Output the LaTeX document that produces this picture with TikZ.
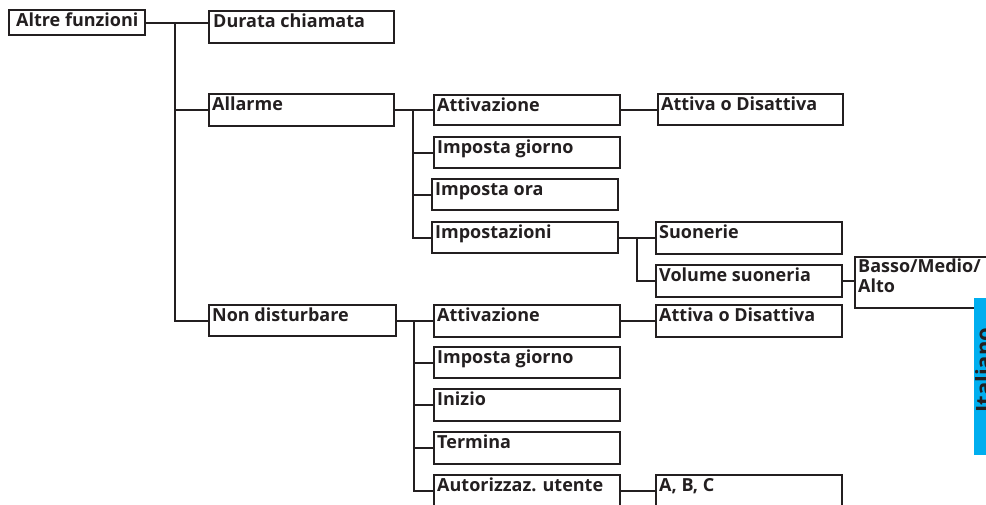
\documentclass[tikz,border=0pt]{standalone}
\usepackage{fontspec}
\setmainfont{Open Sans}
\definecolor{ink}{RGB}{35,31,32}
\definecolor{tab}{RGB}{0,174,239}
\tikzset{
  box/.style={draw=ink, line width=2.4pt, fill=white, inner sep=0pt, rectangle},
  lbl/.style={font=\bfseries\fontsize{18}{20}\selectfont, text=ink, inner sep=0pt},
  conn/.style={draw=ink, line width=2.4pt}
}
\newcommand\mkbox[7]{%
  \node[box, minimum width=#4pt, minimum height=#5pt, anchor=north west] (#1) at (#2,#3) {};
  \node[lbl, anchor=base west] (#1-t) at ([shift={(#6,17)}]#1.north west) {#7};}
\begin{document}
\begin{tikzpicture}[x=1pt,y=-1pt]
\useasboundingbox (0,0) rectangle (986,504);
\clip (0,0) rectangle (986,504);
% level 0/1
\mkbox{af}{8}{9}{136}{25}{8}{Altre funzioni}
\mkbox{dc}{208}{10}{185}{32}{5}{Durata chiamata}
\mkbox{al}{208}{93}{185}{32}{4}{Allarme}
\mkbox{nd}{208}{304}{187}{31}{4}{Non disturbare}
% Allarme
\mkbox{at1}{433}{94}{186}{30}{4}{Attivazione}
\mkbox{ig1}{433}{136}{186}{31}{4}{Imposta giorno}
\mkbox{io}{431}{178}{186}{31}{4}{Imposta ora}
\mkbox{is}{431}{221}{186}{31}{4}{Impostazioni}
\mkbox{ad1}{657}{93}{185}{31}{4}{Attiva o Disattiva}
\mkbox{su}{655}{221}{186}{32}{4}{Suonerie}
\mkbox{vs}{655}{264}{186}{32}{4}{Volume suoneria}
\node[box, minimum width=160pt, minimum height=51pt, anchor=north west] (bma) at (854,256) {};
\node[lbl, anchor=north west, align=left] (bma-t) at ([shift={(4,3)}]bma.north west) {Basso/Medio/\\Alto};
% Non disturbare
\mkbox{at2}{433}{304}{186}{32}{4}{Attivazione}
\mkbox{ad2}{655}{304}{186}{32}{4}{Attiva o Disattiva}
\mkbox{ig2}{433}{346}{186}{31}{4}{Imposta giorno}
\mkbox{in}{433}{388}{186}{32}{4}{Inizio}
\mkbox{te}{433}{431}{186}{32}{4}{Termina}
\mkbox{au}{433}{474}{186}{32}{4}{Autorizzaz. utente}
\mkbox{abc}{655}{474}{186}{32}{4}{A, B, C}
% trunks
\coordinate (t0) at (175,0);
\coordinate (t1) at (413,0);
\coordinate (t2) at (637,0);
\coordinate (t3) at (414,0);
% connectors
\draw[conn] (af.east) -- (dc.west|-af.east);
\draw[conn] (t0|-af.east) |- (al.west);
\draw[conn] (t0|-af.east) |- (nd.west);
\draw[conn] (al.east) -- (at1.west|-al.east);
\draw[conn] (t1|-al.east) |- (ig1.west);
\draw[conn] (t1|-al.east) |- (io.west);
\draw[conn] (t1|-al.east) |- (is.west);
\draw[conn] (at1.east) -- (ad1.west|-at1.east);
\draw[conn] (is.east) -- (su.west|-is.east);
\draw[conn] (t2|-is.east) |- (vs.west);
\draw[conn] (vs.east) -- (bma.west|-vs.east);
\draw[conn] (nd.east) -- (at2.west|-nd.east);
\draw[conn] (t3|-nd.east) |- (ig2.west);
\draw[conn] (t3|-nd.east) |- (in.west);
\draw[conn] (t3|-nd.east) |- (te.west);
\draw[conn] (t3|-nd.east) |- (au.west);
\draw[conn] (at2.east) -- (ad2.west|-at2.east);
\draw[conn] (au.east) -- (abc.west|-au.east);
% language tab
\fill[tab] (974,298) rectangle (1000,455);
\node[font=\bfseries\fontsize{22}{24}\selectfont, text=ink, rotate=90, anchor=north west, inner sep=0pt] (tabt) at (975,413) {Italiano};
\end{tikzpicture}
\end{document}
